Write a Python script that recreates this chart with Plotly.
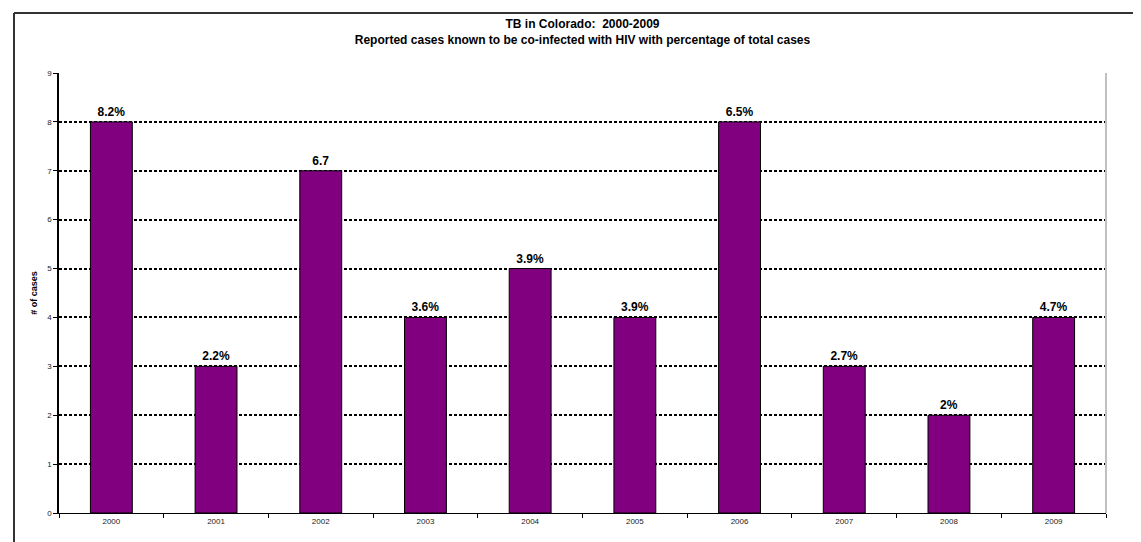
import plotly.graph_objects as go

years = ["2000", "2001", "2002", "2003", "2004", "2005", "2006", "2007", "2008", "2009"]
cases = [8, 3, 7, 4, 5, 4, 8, 3, 2, 4]
labels = ["8.2%", "2.2%", "6.7", "3.6%", "3.9%", "3.9%", "6.5%", "2.7%", "2%", "4.7%"]
y_ticks = [0, 1, 2, 3, 4, 5, 6, 7, 8, 9]

W, H = 1141, 542
L, R, T, B = 51, 1098, 65, 505

fig = go.Figure()
fig.add_trace(go.Bar(
    x=years, y=cases, text=labels, textposition="outside",
    textfont=dict(family="Liberation Sans", size=12, color="black", weight="bold"),
    marker=dict(color="#800080", line=dict(color="black", width=1)),
    cliponaxis=False, hoverinfo="skip",
))

fig.update_layout(
    width=W, height=H,
    margin=dict(l=L, r=W - R, t=T, b=H - B, pad=0),
    paper_bgcolor="white", plot_bgcolor="white",
    bargap=0.6, showlegend=False,
    font=dict(family="Liberation Sans", color="black"),
    title=dict(
        text="TB in Colorado:  2000-2009<br>Reported cases known to be co-infected with HIV with percentage of total cases",
        x=(L + R) / 2 / W, xanchor="center", y=1 - 20 / H, yanchor="top",
        font=dict(family="Liberation Sans", size=12, color="black", weight="bold"),
    ),
)
fig.update_xaxes(
    type="category", showline=True, linecolor="black", linewidth=1,
    ticks="outside", ticklen=4, tickcolor="black", tickson="boundaries",
    tickfont=dict(size=8, color="#222"), showgrid=False,
)
fig.update_yaxes(
    range=[0, 9], tickvals=y_ticks, showline=True, linecolor="black", linewidth=1.5,
    ticks="outside", ticklen=4, tickcolor="black",
    tickfont=dict(size=8, color="#222"),
    showgrid=True, gridcolor="black", gridwidth=2, griddash="3px,2px",
    zeroline=False,
    title=dict(text="<b># of cases</b>", font=dict(size=9, color="black"), standoff=8),
)

# plot-area right border (grey) and chart outer frame
fig.add_shape(type="line", xref="paper", yref="paper", x0=1, x1=1, y0=0, y1=1,
              line=dict(color="#c0c0c0", width=2))
fig.add_shape(type="line", xref="paper", yref="paper",
              x0=(6 - L) / (R - L), x1=(W + 10 - L) / (R - L),
              y0=(B - 5) / (B - T), y1=(B - 5) / (B - T),
              line=dict(color="#333", width=2))
fig.add_shape(type="line", xref="paper", yref="paper",
              x0=(6 - L) / (R - L), x1=(6 - L) / (R - L),
              y0=(B - 5) / (B - T), y1=(B - H - 10) / (B - T),
              line=dict(color="#333", width=2))

fig.write_html("out.html")
